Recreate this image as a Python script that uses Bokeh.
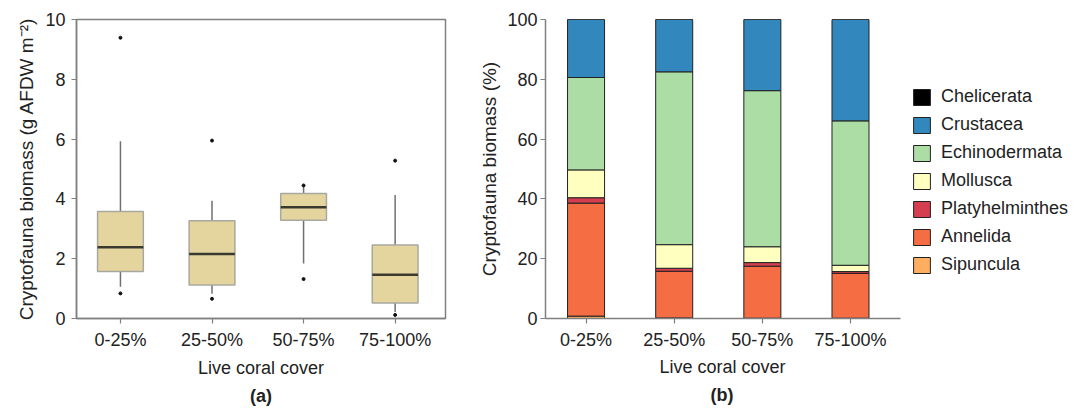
from bokeh.plotting import figure
from bokeh.layouts import row
from bokeh.models import Range1d, FixedTicker, Legend, LegendItem, Title, ColumnDataSource
from bokeh.transform import dodge
from bokeh.embed import file_html
from bokeh.resources import INLINE

# ---------------- data ----------------
categories = ["0-25%", "25-50%", "50-75%", "75-100%"]

# panel (a): box plot summary (g AFDW m-2)
box_q1 = [1.57, 1.12, 3.29, 0.52]
box_median = [2.38, 2.16, 3.72, 1.46]
box_q3 = [3.58, 3.27, 4.18, 2.46]
whisker_low = [1.06, 0.83, 1.84, 0.22]
whisker_high = [5.93, 3.94, 4.40, 4.13]
outlier_group = ["0-25%", "0-25%", "25-50%", "25-50%", "50-75%", "50-75%", "75-100%", "75-100%"]
outlier_value = [9.39, 0.84, 5.95, 0.66, 4.45, 1.32, 5.28, 0.12]

# panel (b): relative biomass (%) per taxon, stacked bottom -> top
taxa = ["Sipuncula", "Annelida", "Platyhelminthes", "Mollusca", "Echinodermata", "Crustacea", "Chelicerata"]
sipuncula = [0.8, 0.2, 0.1, 0.1]
annelida = [37.8, 15.6, 17.4, 15.0]
platyhelminthes = [1.8, 1.0, 1.2, 0.6]
mollusca = [9.3, 7.9, 5.3, 2.1]
echinodermata = [30.9, 57.8, 52.2, 48.3]
crustacea = [19.4, 17.5, 23.8, 33.9]
chelicerata = [0.0, 0.0, 0.0, 0.0]
taxa_colors = ["#fdae61", "#f46d43", "#d53e4f", "#ffffbf", "#abdda4", "#3288bd", "#000000"]

FONT = "Liberation Sans"
TXT = "#222222"
AX = "#808080"

xi = list(range(len(categories)))
label_map = {i: c for i, c in enumerate(categories)}


def style_axes(p):
    for ax in (p.xaxis[0], p.yaxis[0]):
        ax.axis_line_color = AX
        ax.axis_line_width = 1.5
        ax.major_tick_line_color = AX
        ax.major_tick_line_width = 1.2
        ax.major_tick_in = 0
        ax.major_tick_out = 5
        ax.minor_tick_line_color = None
        ax.major_label_text_font = FONT
        ax.major_label_text_font_size = "18px"
        ax.major_label_text_color = TXT
        ax.axis_label_text_font = FONT
        ax.axis_label_text_font_style = "normal"
        ax.axis_label_text_color = TXT
    p.xaxis[0].axis_label_text_font_size = "18px"
    p.yaxis[0].axis_label_text_font_size = "19px"
    p.xaxis[0].ticker = FixedTicker(ticks=xi)
    p.xaxis[0].major_label_overrides = label_map
    p.xaxis[0].major_label_standoff = 6
    p.xaxis[0].axis_label_standoff = 5
    p.grid.grid_line_color = None


H = 409
# ---------------- panel (a) ----------------
p1 = figure(width=466, height=H, x_range=Range1d(-0.48, 3.55), y_range=Range1d(0, 10),
            output_backend="svg", toolbar_location=None,
            min_border_left=76, min_border_right=21, min_border_top=19, min_border_bottom=91,
            background_fill_color="white", border_fill_color="white")
p1.outline_line_color = AX
p1.outline_line_width = 1.5

bsrc = ColumnDataSource(dict(x=xi, q1=box_q1, med=box_median, q3=box_q3,
                             lo=whisker_low, hi=whisker_high))
p1.segment(x0="x", y0="q3", x1="x", y1="hi", source=bsrc, line_color="#707070", line_width=1.5)
p1.segment(x0="x", y0="q1", x1="x", y1="lo", source=bsrc, line_color="#707070", line_width=1.5)
p1.vbar(x="x", width=0.5, bottom="q1", top="q3", source=bsrc,
        fill_color="#e4d59f", line_color="#a8a8a0", line_width=1.5)
p1.segment(x0=dodge("x", -0.25), y0="med", x1=dodge("x", 0.25), y1="med", source=bsrc,
           line_color="#3a3a30", line_width=2.5)
ox = [categories.index(g) for g in outlier_group]
p1.scatter(ox, outlier_value, size=3, color="#111111")

p1.yaxis[0].ticker = FixedTicker(ticks=[0, 2, 4, 6, 8, 10])
p1.yaxis.axis_label = "Cryptofauna biomass (g AFDW m\u207b\u00b2)"
p1.xaxis.axis_label = "Live coral cover"
style_axes(p1)
p1.yaxis[0].major_label_standoff = 6
p1.yaxis[0].axis_label_standoff = 5
p1.add_layout(Title(text="(a)", align="center", text_font=FONT, text_font_size="18px",
                    text_font_style="bold", text_color=TXT, standoff=7), "below")

# ---------------- panel (b) ----------------
XB = (-0.46, 3.57)
p2 = figure(width=622, height=H, x_range=Range1d(XB[0], 5.70), y_range=Range1d(0, 100),
            output_backend="svg", toolbar_location=None,
            min_border_left=79, min_border_right=0, min_border_top=19, min_border_bottom=91,
            background_fill_color="white", border_fill_color="white")
p2.outline_line_color = None

ssrc = ColumnDataSource(dict(x=xi, Sipuncula=sipuncula, Annelida=annelida,
                             Platyhelminthes=platyhelminthes, Mollusca=mollusca,
                             Echinodermata=echinodermata, Crustacea=crustacea,
                             Chelicerata=chelicerata))
rends = p2.vbar_stack(taxa, x="x", width=0.42, source=ssrc, color=taxa_colors,
                      line_color="#222222", line_width=1)

p2.yaxis[0].ticker = FixedTicker(ticks=[0, 20, 40, 60, 80, 100])
p2.yaxis.axis_label = "Cryptofauna biomass (%)"
style_axes(p2)
p2.xaxis[0].bounds = XB
p2.yaxis[0].major_label_standoff = 3
p2.yaxis[0].axis_label_standoff = 4

items = [LegendItem(label=t, renderers=[r]) for t, r in zip(taxa, rends)][::-1]
legend = Legend(items=items, location=(366, 43), margin=0, padding=6,
                glyph_width=21, glyph_height=20, label_height=20, spacing=7,
                label_standoff=9, label_text_font=FONT, label_text_font_size="18px",
                label_text_color=TXT, border_line_color=None, background_fill_alpha=0)
p2.add_layout(legend, "center")
p2.add_layout(Title(text="Live coral cover", align="left", offset=114, text_font=FONT,
                    text_font_size="18px", text_font_style="normal", text_color=TXT,
                    standoff=5), "below")
p2.add_layout(Title(text="(b)", align="left", offset=165, text_font=FONT, text_font_size="18px",
                    text_font_style="bold", text_color=TXT, standoff=7), "below")

layout = row(p1, p2, spacing=0)
open("out.html", "w").write(file_html(layout, INLINE))
